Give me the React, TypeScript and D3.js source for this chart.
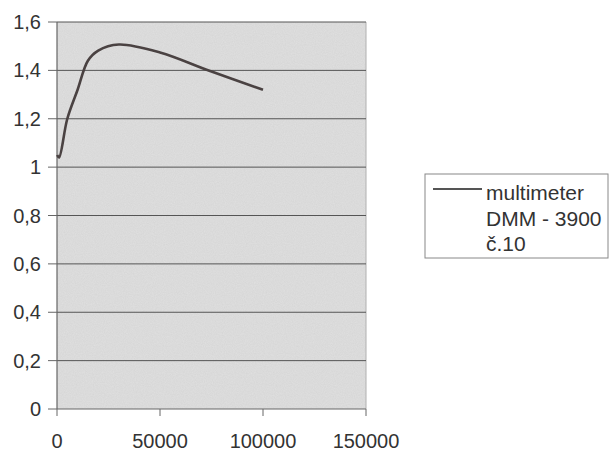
import React from "react";
import * as d3 from "d3";

const freq = [100, 1000, 5000, 10000, 15000, 20000, 30000, 50000, 75000, 100000];
const ratio = [1.05, 1.04, 1.2, 1.32, 1.44, 1.482, 1.507, 1.474, 1.395, 1.32];
const yTicks = [0, 0.2, 0.4, 0.6, 0.8, 1, 1.2, 1.4, 1.6];
const xTicks = [0, 50000, 100000, 150000];
const legendLines = ["multimeter", "DMM - 3900", "č.10"];

export default function App() {
  const W = 610, H = 452;
  const L = 57, R = 366, T = 22, B = 409;
  const x = d3.scaleLinear().domain([0, 150000]).range([L, R]);
  const y = d3.scaleLinear().domain([0, 1.6]).range([B, T]);
  const pts = freq.map((f, i) => [f, ratio[i]] as [number, number]);
  const line = d3.line<[number, number]>().x(d => x(d[0])).y(d => y(d[1])).curve(d3.curveCatmullRom.alpha(0.5));
  const fmt = (v: number) => String(v).replace(".", ",");
  const font = "'Liberation Sans', Arial, sans-serif";
  return (
    <svg width={W} height={H} style={{ position: "absolute", left: 0, top: 0, background: "#fff" }}>
      <defs>
        <filter id="noise" x="0" y="0" width="100%" height="100%">
          <feTurbulence type="fractalNoise" baseFrequency="0.9" numOctaves="2" seed="3" result="n" />
          <feColorMatrix type="matrix" values="0 0 0 0 0.5  0 0 0 0 0.5  0 0 0 0 0.5  0 0 0 0.3 0" />
          <feComposite in2="SourceGraphic" operator="in" />
        </filter>
      </defs>
      <rect x={L} y={T} width={R - L} height={B - T} fill="#e0e0e0" />
      <rect x={L} y={T} width={R - L} height={B - T} fill="#e0e0e0" filter="url(#noise)" />
      <line x1={R} x2={R} y1={T} y2={B} stroke="#b0b0b0" strokeWidth={1} />
      {yTicks.filter(v => v > 0).map(v => (
        <line key={v} x1={L} x2={R} y1={y(v)} y2={y(v)} stroke="#555" strokeWidth={1} />
      ))}
      <line x1={L} x2={L} y1={T} y2={B} stroke="#666" strokeWidth={1.2} />
      <line x1={L} x2={R} y1={B} y2={B} stroke="#666" strokeWidth={1.2} />
      {yTicks.map(v => (
        <g key={"yt" + v}>
          <line x1={L - 9} x2={L} y1={y(v)} y2={y(v)} stroke="#666" />
          <text x={41} y={y(v) + 7} textAnchor="end" fontFamily={font} fontSize={20} fill="#333">{fmt(v)}</text>
        </g>
      ))}
      {xTicks.map(v => (
        <g key={"xt" + v}>
          <line x1={x(v)} x2={x(v)} y1={B} y2={B + 7} stroke="#666" />
          <text x={x(v)} y={448} textAnchor="middle" fontFamily={font} fontSize={20} fill="#333">{v}</text>
        </g>
      ))}
      <path d={line(pts) || ""} fill="none" stroke="#4a4242" strokeWidth={2.6} strokeLinejoin="round" />
      <rect x={425} y={174} width={183} height={84} fill="#fff" stroke="#888" strokeWidth={1} />
      <line x1={433} x2={482} y1={189} y2={189} stroke="#555" strokeWidth={2} />
      {legendLines.map((t, i) => (
        <text key={t} x={486} y={200 + i * 25.5} fontFamily={font} fontSize={21} fill="#333">{t}</text>
      ))}
    </svg>
  );
}
